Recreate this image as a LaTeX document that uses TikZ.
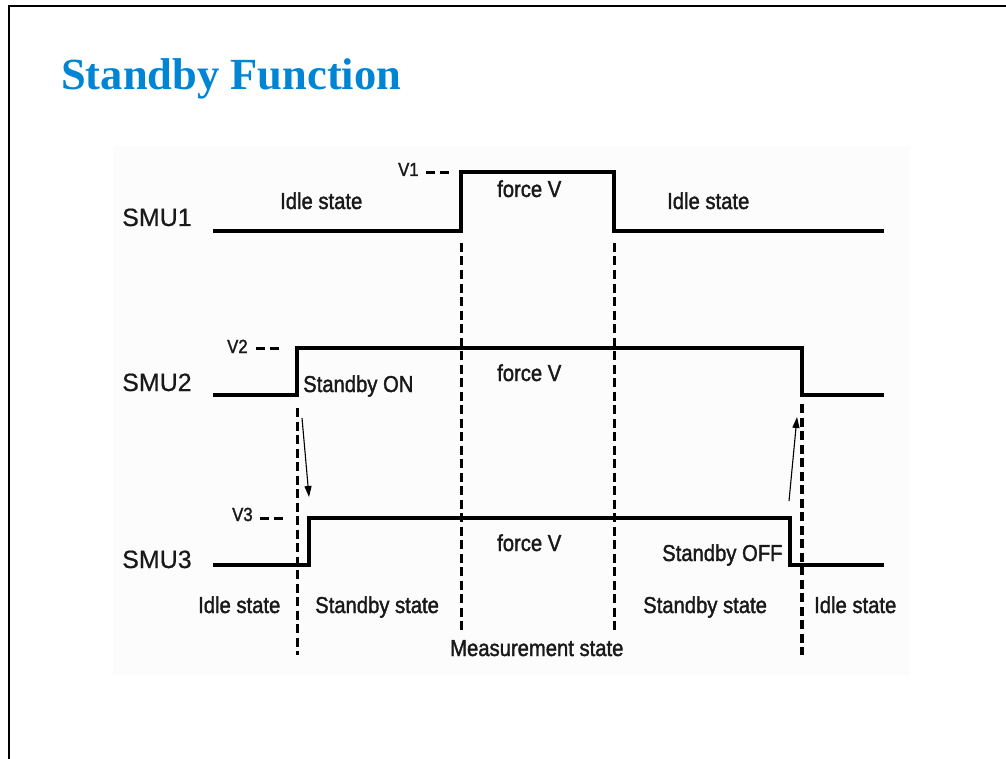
\documentclass[tikz,border=0pt]{standalone}
\usepackage{fontspec}
\setmainfont{Liberation Serif}
\newfontfamily\labfont[FakeStretch=0.88,FakeBold=1.6]{Liberation Sans}
\newfontfamily\smufont[FakeBold=0.6]{Liberation Sans}
\usetikzlibrary{arrows.meta}
\definecolor{titleblue}{RGB}{0,132,212}
\definecolor{ink}{RGB}{25,25,25}
\tikzset{
  trace/.style={line width=3.4pt, line join=miter},
  guide/.style={line width=3.0pt, dash pattern=on 9pt off 4.5pt},
  vdash/.style={line width=2.6pt, dash pattern=on 9pt off 5pt},
  lab/.style={anchor=base west, inner sep=0pt, text=ink, font=\labfont\fontsize{23}{26}\selectfont},
  vlab/.style={anchor=base west, inner sep=0pt, text=ink, font=\labfont\fontsize{19}{22}\selectfont},
  smu/.style={anchor=base west, inner sep=0pt, text=ink, font=\smufont\fontsize{25}{29}\selectfont},
  cause/.style={line width=1.1pt, -{Triangle[length=11pt,width=7pt]}}
}
\begin{document}
\begin{tikzpicture}[x=1pt,y=-1pt]
\useasboundingbox (0,0) rectangle (1006,759);
% frame
\draw[line width=1.5pt] (1006,6) -- (9,6) -- (9,759);
% title
\node[anchor=base west, inner sep=0pt, text=titleblue, font=\bfseries\fontsize{44.5}{50}\selectfont] (title) at (61,90) {Standby Function};
% faint panel
\fill[black!1] (113,146) rectangle (910,675);

% guide lines
\draw[guide] (297,408) -- (297,655);
\draw[guide] (461,243) -- (461,630);
\draw[guide] (614,243) -- (614,630);
\draw[guide, line width=3.8pt] (802,404) -- (802,655);

% SMU1
\draw[trace] (213,231) -- (461,231) -- (461,172) -- (614,172) -- (614,231) -- (884,231);
% SMU2
\draw[trace] (213,395) -- (297,395) -- (297,348) -- (802,348) -- (802,395) -- (884,395);
% SMU3
\draw[trace] (213,565) -- (309,565) -- (309,518) -- (790,518) -- (790,565) -- (884,565);

% V markers
\draw[vdash] (426,172.5) -- (451,172.5);
\draw[vdash] (256,348.5) -- (281,348.5);
\draw[vdash] (260,518.5) -- (285,518.5);
\node[vlab] (v1) at (398,176) {V1};
\node[vlab] (v2) at (227,353) {V2};
\node[vlab] (v3) at (232,521) {V3};

% SMU names
\node[smu] (smu1) at (122,226) {SMU1};
\node[smu] (smu2) at (122,391) {SMU2};
\node[smu] (smu3) at (122,568) {SMU3};

% labels
\node[lab] (idle1) at (280,209) {Idle state};
\node[lab] (force1) at (497,197) {force V};
\node[lab] (idle2) at (667,209) {Idle state};
\node[lab] (sbon) at (303,392) {Standby ON};
\node[lab] (force2) at (497,381) {force V};
\node[lab] (force3) at (497,551) {force V};
\node[lab] (sboff) at (662,561) {Standby OFF};
\node[lab] (idle3) at (198,613) {Idle state};
\node[lab] (sbst1) at (315,613) {Standby state};
\node[lab] (sbst2) at (643,613) {Standby state};
\node[lab] (idle4) at (814,613) {Idle state};
\node[lab] (meas) at (450,656) {Measurement state};

% cause arrows
\coordinate (d1) at (302,418);
\coordinate (d2) at (309,497);
\coordinate (u1) at (789,501);
\coordinate (u2) at (797,417);
\draw[cause] (d1) -- (d2);
\draw[cause] (u1) -- (u2);
\end{tikzpicture}
\end{document}
